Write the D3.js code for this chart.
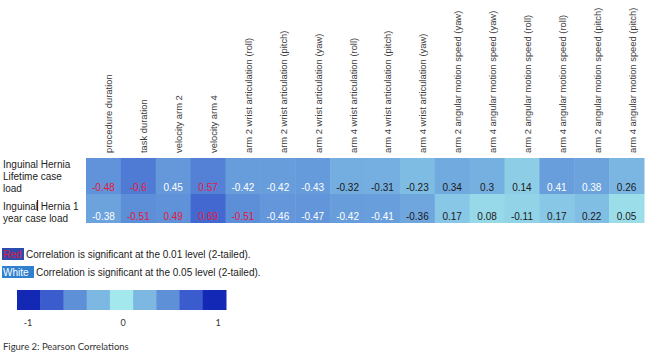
<!DOCTYPE html>
<html><head><meta charset="utf-8">
<script src="https://cdn.jsdelivr.net/npm/d3@7/dist/d3.min.js"></script>
<style>body{margin:0;background:#fff}svg{display:block}</style>
</head><body>
<svg id="c" width="645" height="354"></svg>
<script>
const variables = ["procedure duration","task duration","velocity arm 2","velocity arm 4",
  "arm 2 wrist articulation (roll)","arm 2 wrist articulation (pitch)","arm 2 wrist articulation (yaw)",
  "arm 4 wrist articulation (roll)","arm 4 wrist articulation (pitch)","arm 4 wrist articulation (yaw)",
  "arm 2 angular motion speed (yaw)","arm 4 angular motion speed (yaw)","arm 2 angular motion speed (roll)",
  "arm 4 angular motion speed (roll)","arm 2 angular motion speed (pitch)","arm 4 angular motion speed (pitch)"];
const rowLabels = [["Inguinal Hernia","Lifetime case","load"],["Inguinal Hernia 1","year case load"]];
const lifetimeR = [-0.48,-0.6,0.45,0.57,-0.42,-0.42,-0.43,-0.32,-0.31,-0.23,0.34,0.3,0.14,0.41,0.38,0.26];
const oneYearR  = [-0.38,-0.51,0.49,0.69,-0.51,-0.46,-0.47,-0.42,-0.41,-0.36,0.17,0.08,-0.11,0.17,0.22,0.05];
// significance: 2 = p<0.01 (red), 1 = p<0.05 (white), 0 = n.s.
const lifetimeSig = [2,2,1,2,1,1,1,0,0,0,0,0,0,1,1,0];
const oneYearSig  = [1,2,2,2,2,1,1,1,1,0,0,0,0,0,0,0];
const legendSteps = [-1,-0.75,-0.5,-0.25,0,0.25,0.5,0.75,1];
const legendTicks = [-1,0,1];

const svg = d3.select("#c");
const font = "'Liberation Sans', Arial, sans-serif";
const color = d3.scaleLinear().domain([0,0.25,0.5,0.75,1])
  .range(["#a3e8ec","#7cb8e2","#5e90d8","#3a5ccd","#1428b6"]).interpolate(d3.interpolateRgb).clamp(true);
const textColor = ["#1a1a1a","#ffffff","#e3193f"];

const x = d3.scaleBand().domain(variables).range([86,644]);
const rowTop = [158,194], rowBot = [194,223];
const rows = [{r:lifetimeR,s:lifetimeSig},{r:oneYearR,s:oneYearSig}];

// header labels
svg.append("g").selectAll("text").data(variables).join("text")
  .attr("transform", d => `translate(${x(d)+x.bandwidth()/2+9},153) rotate(-90)`)
  .attr("font-family", font).attr("font-size", 9.4).attr("fill", "#3a3a3a")
  .text(d => d);

// cells
rows.forEach((row, i) => {
  const g = svg.append("g");
  const cells = variables.map((v, j) => ({v, r: row.r[j], s: row.s[j]}));
  g.selectAll("rect").data(cells).join("rect")
    .attr("x", d => x(d.v)).attr("y", rowTop[i])
    .attr("width", x.bandwidth()+0.5).attr("height", rowBot[i]-rowTop[i])
    .attr("fill", d => color(Math.abs(d.r)));
  g.selectAll("text").data(cells).join("text")
    .attr("x", d => x(d.v)+x.bandwidth()/2).attr("y", rowBot[i]-3)
    .attr("text-anchor","middle")
    .attr("font-family", font).attr("font-size", 10)
    .attr("fill", d => textColor[d.s])
    .text(d => String(d.r));
});

// row labels
const rowBase = [[168,180,192],[210,222]];
rowLabels.forEach((lines, i) => {
  svg.append("g").selectAll("text").data(lines).join("text")
    .attr("x", 3).attr("y", (d,k) => rowBase[i][k])
    .attr("font-family", font).attr("font-size", 10).attr("fill", "#222")
    .text(d => d);
});
// text cursor artifact
svg.append("line").attr("x1",37.5).attr("x2",37.5).attr("y1",200).attr("y2",211).attr("stroke","#222").attr("stroke-width",1.2);

// significance notes
const notes = [
  {tag:"Red", bg:"#2c4cae", fg:"#e3193f", y:258, w:22, text:"Correlation is significant at the 0.01 level (2-tailed)."},
  {tag:"White", bg:"#2f80cf", fg:"#ffffff", y:276, w:32, text:"Correlation is significant at the 0.05 level (2-tailed)."}
];
notes.forEach(n => {
  svg.append("rect").attr("x",2).attr("y",n.y-10).attr("width",n.w).attr("height",12).attr("fill",n.bg);
  svg.append("text").attr("x",3).attr("y",n.y).attr("font-family",font).attr("font-size",10).attr("fill",n.fg).text(n.tag);
  svg.append("text").attr("x",n.w+4).attr("y",n.y).attr("font-family",font).attr("font-size",10).attr("fill","#222").text(n.text);
});

// colour legend
const lx = d3.scaleBand().domain(legendSteps).range([17,226]);
svg.append("g").selectAll("rect").data(legendSteps).join("rect")
  .attr("x", d => lx(d)).attr("y", 290).attr("width", lx.bandwidth()+0.5).attr("height", 20)
  .attr("fill", d => color(Math.abs(d)));
const tickPos = d3.scaleLinear().domain([-1,1]).range([28,218]);
svg.append("g").selectAll("text").data(legendTicks).join("text")
  .attr("x", d => tickPos(d)).attr("y", 326).attr("text-anchor","middle")
  .attr("font-family","Lato, 'Open Sans', sans-serif").attr("font-size",9).attr("fill","#333")
  .text(d => d);

svg.append("text").attr("x",3).attr("y",350)
  .attr("font-family","Lato, 'Open Sans', sans-serif").attr("font-size",9.5).attr("fill","#333")
  .text("Figure 2: Pearson Correlations");
</script>
</body></html>
